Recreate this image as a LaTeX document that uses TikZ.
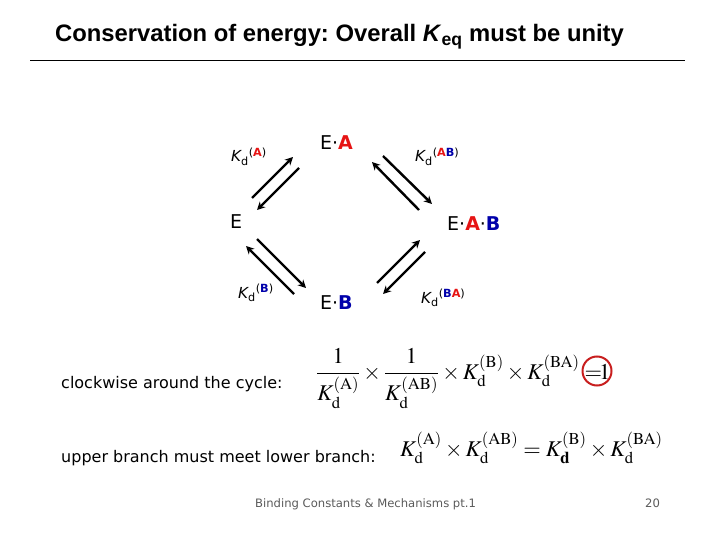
\documentclass[tikz,border=0pt]{standalone}
\usepackage{amsmath}
\usepackage{mathptmx}
\usepackage{fontspec}
\setmainfont{DejaVu Sans}
\newfontfamily\titlefont{Liberation Sans}
\usetikzlibrary{arrows.meta}
\definecolor{cred}{RGB}{230,20,20}
\definecolor{cblue}{RGB}{0,0,170}
\definecolor{cgris}{RGB}{90,90,90}
\definecolor{cring}{RGB}{200,30,30}
\newcommand{\kdlab}[1]{{\itshape K}\textsubscript{d}\textsuperscript{(#1)}}
\newcommand{\sA}{{\bfseries\color{cred}A}}
\newcommand{\sB}{{\bfseries\color{cblue}B}}
\newcommand{\Kd}[1]{K_{\mathrm{d}}^{(\mathrm{#1})}}
\frenchspacing

\begin{document}
\begin{tikzpicture}[x=1pt, y=-1pt, >={Stealth[length=8pt,width=8pt]},
  rxn/.style={->, line width=2.4pt},
  species/.style={font=\fontsize{19}{21}\selectfont, inner sep=0pt, anchor=west},
  kdnode/.style={font=\fontsize{15.2}{17}\selectfont, inner sep=0pt, anchor=base west},
  txt/.style={font=\fontsize{16}{19}\selectfont, inner sep=0pt, anchor=base west},
  eqn/.style={font=\fontsize{22.5}{26}\selectfont, inner sep=0pt, anchor=base west}]
\useasboundingbox (0,0) rectangle (720,540);
\node[inner sep=0pt, anchor=base west, font=\titlefont\bfseries\fontsize{23.8}{28}\selectfont]
  (title) at (55,42) {Conservation of energy: Overall \textit{K}\textsubscript{eq} must be unity};
\draw[line width=0.8pt] (30,60) -- (685,60);
% the four species
\node[species, anchor=center] (nE) at (236,222) {E};
\node[species] (nEA) at (320,143) {E·\sA};
\node[species] (nEAB) at (447,224) {E·\sA·\sB};
\node[species] (nEB) at (320,303) {E·\sB};
% dissociation constants
\node[kdnode] (kA) at (231,162) {\kdlab{{\bfseries\color{cred}A}}};
\node[kdnode] (kAB) at (415,162) {\kdlab{{\bfseries\color{cred}A}{\bfseries\color{cblue}B}}};
\node[kdnode] (kB) at (238,298) {\kdlab{{\bfseries\color{cblue}B}}};
\node[kdnode] (kBA) at (421,303) {\kdlab{{\bfseries\color{cblue}B}{\bfseries\color{cred}A}}};
% equilibrium arrows
\coordinate (p1) at (252,198); \coordinate (q1) at (293,157);
\coordinate (p2) at (299,168); \coordinate (q2) at (257,210);
\coordinate (p3) at (419,210); \coordinate (q3) at (372,162);
\coordinate (p4) at (383,156); \coordinate (q4) at (432,204);
\coordinate (p5) at (294,294); \coordinate (q5) at (246,246);
\coordinate (p6) at (257,239); \coordinate (q6) at (306,288);
\coordinate (p7) at (377,283); \coordinate (q7) at (420,240);
\coordinate (p8) at (425,252); \coordinate (q8) at (383,294);
\foreach \s/\t in {p1/q1,p2/q2,p3/q3,p4/q4,p5/q5,p6/q6,p7/q7,p8/q8}
  \draw[rxn] (\s) -- (\t);
% the cycle
\node[txt] (cwtxt) at (61,388) {clockwise around the cycle:};
\node[eqn] (cweq) at (316,379)
  {$\dfrac{1}{\Kd{A}}\times\dfrac{1}{\Kd{AB}}\times\Kd{B}\times\Kd{BA}=$};
\node[draw=cring, circle, line width=2pt, minimum size=29pt, inner sep=0pt] (ring) at (597,371) {};
\node[eqn] (one) at (599,379) {$1$};
\node[txt] (brtxt) at (61,462) {upper branch must meet lower branch:};
\node[eqn] (breq) at (400,456)
  {$\Kd{A}\times\Kd{AB}=K_{\mathbf{d}}^{(\mathrm{B})}\times\Kd{BA}$};
% footer
\node[inner sep=0pt, anchor=base west, text=cgris, font=\fontsize{11.6}{14}\selectfont] (foot) at (255,507) {Binding Constants \& Mechanisms pt.1};
\node[inner sep=0pt, anchor=base west, text=cgris, font=\fontsize{11.6}{14}\selectfont] (page) at (645,507) {20};
\end{tikzpicture}
\end{document}
